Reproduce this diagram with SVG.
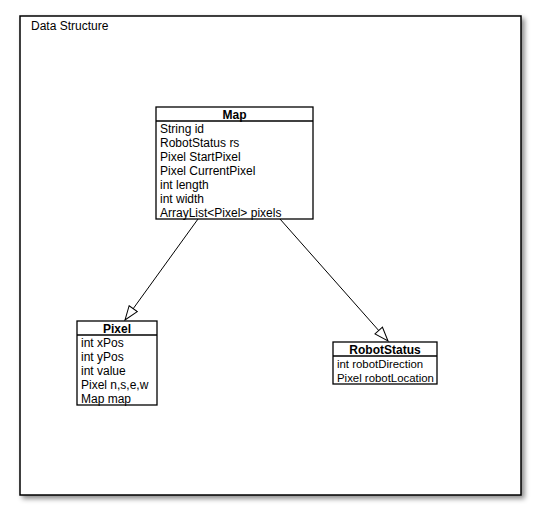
<svg xmlns="http://www.w3.org/2000/svg" width="541" height="520" viewBox="0 0 541 520">
<style>
text{font-family:"Liberation Sans",Arial,sans-serif;font-size:12px;fill:#000}
.t{font-weight:bold;text-anchor:middle}
.s{font-size:11.4px}
.box{fill:#fff;stroke:#000;stroke-width:1.3}
.sep{stroke:#000;stroke-width:1.3}
.edge{stroke:#000;stroke-width:1;fill:none;marker-end:url(#tri)}
</style>
<defs>
<filter id="sh" x="-5%" y="-5%" width="110%" height="110%">
<feDropShadow dx="3" dy="3" stdDeviation="2.5" flood-color="#000" flood-opacity="0.45"/>
</filter>
<marker id="tri" viewBox="0 0 16 12" refX="15" refY="6" markerWidth="16" markerHeight="12" markerUnits="userSpaceOnUse" orient="auto">
<path d="M1,1 L15,6 L1,11 Z" fill="#fff" stroke="#000" stroke-width="1"/>
</marker>
</defs>
<g id="frame">
<rect x="20" y="16" width="501" height="479" fill="#fff" stroke="#000" stroke-width="1.5" filter="url(#sh)"/>
<text x="31" y="30">Data Structure</text>
</g>
<g id="connectors">
<line class="edge" x1="198" y1="219" x2="125" y2="320"/>
<line class="edge" x1="280" y1="219" x2="388" y2="341"/>
</g>
<g id="Map">
<rect class="box" x="156" y="107" width="157" height="112"/>
<line class="sep" x1="156" y1="121" x2="313" y2="121"/>
<text class="t" x="234.5" y="118.5">Map</text>
<text x="160" y="132.5">String id</text>
<text x="160" y="146.5">RobotStatus rs</text>
<text x="160" y="160.5">Pixel StartPixel</text>
<text x="160" y="174.5">Pixel CurrentPixel</text>
<text x="160" y="188.5">int length</text>
<text x="160" y="202.5">int width</text>
<text x="160" y="216.5">ArrayList&lt;Pixel&gt; pixels</text>
</g>
<g id="Pixel">
<rect class="box" x="77" y="321" width="80" height="84"/>
<line class="sep" x1="77" y1="335" x2="157" y2="335"/>
<text class="t" x="117" y="332.5">Pixel</text>
<text x="81" y="346.5">int xPos</text>
<text x="81" y="360.5">int yPos</text>
<text x="81" y="374.5">int value</text>
<text x="81" y="388.5">Pixel n,s,e,w</text>
<text x="81" y="402.5">Map map</text>
</g>
<g id="RobotStatus">
<rect class="box" x="333" y="342" width="104" height="42"/>
<line class="sep" x1="333" y1="356" x2="437" y2="356"/>
<text class="t" x="385" y="353.5">RobotStatus</text>
<text class="s" x="337" y="367.5">int robotDirection</text>
<text class="s" x="337" y="381.5">Pixel robotLocation</text>
</g>
</svg>
